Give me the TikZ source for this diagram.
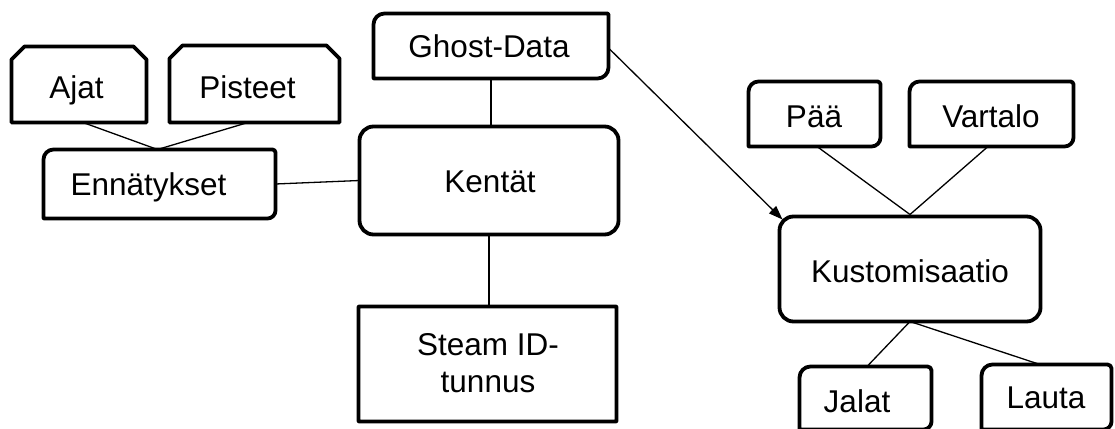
\documentclass[tikz,border=0pt]{standalone}
\usepackage{fontspec}
\setmainfont{Liberation Sans}
\usetikzlibrary{arrows.meta,calc}

% Outline of a frame node with its own radius at each corner:
% #1 node, #2 top-left, #3 top-right, #4 bottom-right, #5 bottom-left
\newcommand\cornerframe[5]{%
  \draw[boxline]
    ([xshift=#2pt]#1.north west) -- ([xshift=-#3pt]#1.north east)
      arc[start angle=-90,end angle=0,radius=#3]
    -- ([yshift=#4pt]#1.south east)
      arc[start angle=0,end angle=90,radius=#4]
    -- ([xshift=#5pt]#1.south west)
      arc[start angle=90,end angle=180,radius=#5]
    -- ([yshift=-#2pt]#1.north west)
      arc[start angle=180,end angle=270,radius=#2]
    -- cycle;}

% Outline with both top corners cut off by #2
\newcommand\snipframe[2]{%
  \draw[boxline]
    ([xshift=#2pt]#1.north west) -- ([xshift=-#2pt]#1.north east)
    -- ([yshift=-#2pt]#1.north east) -- (#1.south east)
    -- (#1.south west) -- ([yshift=-#2pt]#1.north west) -- cycle;}

\begin{document}
\begin{tikzpicture}[x=1pt,y=-1pt,
  frame/.style={draw=none,inner sep=0pt,outer sep=0pt},
  boxline/.style={line width=3.8pt,line join=round,black},
  lbl/.style={inner sep=0pt,anchor=base,align=center,
    font=\fontsize{31.5}{37}\selectfont},
  link/.style={line width=1.3pt,black},
  flow/.style={link,-{Triangle[length=14pt,width=10pt]}}]
\useasboundingbox (0,0) rectangle (1115,428);

% frames
\node[frame,minimum width=135pt,minimum height=76pt] (ajat) at (79,84.5) {};
\node[frame,minimum width=170pt,minimum height=77pt] (pist) at (254.5,84) {};
\node[frame,minimum width=232pt,minimum height=69pt] (enn) at (159.5,184) {};
\node[frame,minimum width=235pt,minimum height=65pt] (ghost) at (491,46) {};
\node[frame,minimum width=259pt,minimum height=108pt] (kent) at (489,180.5) {};
\node[frame,minimum width=258pt,minimum height=115pt] (steam) at (487.5,364) {};
\node[frame,minimum width=132pt,minimum height=65pt] (paa) at (814.5,114) {};
\node[frame,minimum width=164pt,minimum height=65pt] (vart) at (991.5,114) {};
\node[frame,minimum width=261pt,minimum height=105pt] (kust) at (910,269) {};
\node[frame,minimum width=132pt,minimum height=63pt] (jalat) at (865.5,398) {};
\node[frame,minimum width=130pt,minimum height=65pt] (lauta) at (1046.5,397) {};

\snipframe{ajat}{13}
\snipframe{pist}{13}
\cornerframe{enn}{10}{3}{8}{0.5}
\cornerframe{ghost}{11}{1}{11}{0.5}
\cornerframe{kent}{14}{14}{14}{14}
\cornerframe{steam}{0.5}{0.5}{0.5}{0.5}
\cornerframe{paa}{10}{3}{9}{0.5}
\cornerframe{vart}{10}{3}{9}{0.5}
\cornerframe{kust}{14}{14}{14}{14}
\cornerframe{jalat}{11}{4}{8}{0.5}
\cornerframe{lauta}{11}{4}{8}{0.5}

% labels
\node[lbl] (ajat-l) at (76.5,98) {Ajat};
\node[lbl] (pist-l) at (247.5,98) {Pisteet};
\node[lbl] (enn-l) at (148.5,195) {Ennätykset};
\node[lbl] (ghost-l) at (489,57) {Ghost-Data};
\node[lbl] (kent-l) at (490,192) {Kentät};
\node[lbl] (steam-l) at (488,392) {Steam ID-\\tunnus};
\node[lbl] (paa-l) at (814,127) {Pää};
\node[lbl] (vart-l) at (991,127) {Vartalo};
\node[lbl] (kust-l) at (910,282) {Kustomisaatio};
\node[lbl] (jalat-l) at (857,412) {Jalat};
\node[lbl] (lauta-l) at (1046,408) {Lauta};

% connectors
\draw[link] ([xshift=4pt]ajat.south) -- ([xshift=-2pt]enn.north);
\draw[link] ([xshift=-6.5pt]pist.south) -- ([xshift=-2pt]enn.north);
\draw[link] (enn.east) -- (kent.west);
\draw[link] (ghost.south) -- (ghost.south |- kent.north);
\draw[link] (kent.south) -- (kent.south |- steam.north);
\draw[link] ([xshift=2.5pt]paa.south) -- ([yshift=2pt]kust.north);
\draw[link] ([xshift=-3.5pt]vart.south) -- ([yshift=2pt]kust.north);
\draw[link] (kust.south) -- ([xshift=1.5pt]jalat.north);
\draw[link] (kust.south) -- ([xshift=-6.5pt]lauta.north);
\draw[flow] ([yshift=-2pt]ghost.east) -- ([xshift=3pt,yshift=-3pt]kust.north west);
\end{tikzpicture}
\end{document}
